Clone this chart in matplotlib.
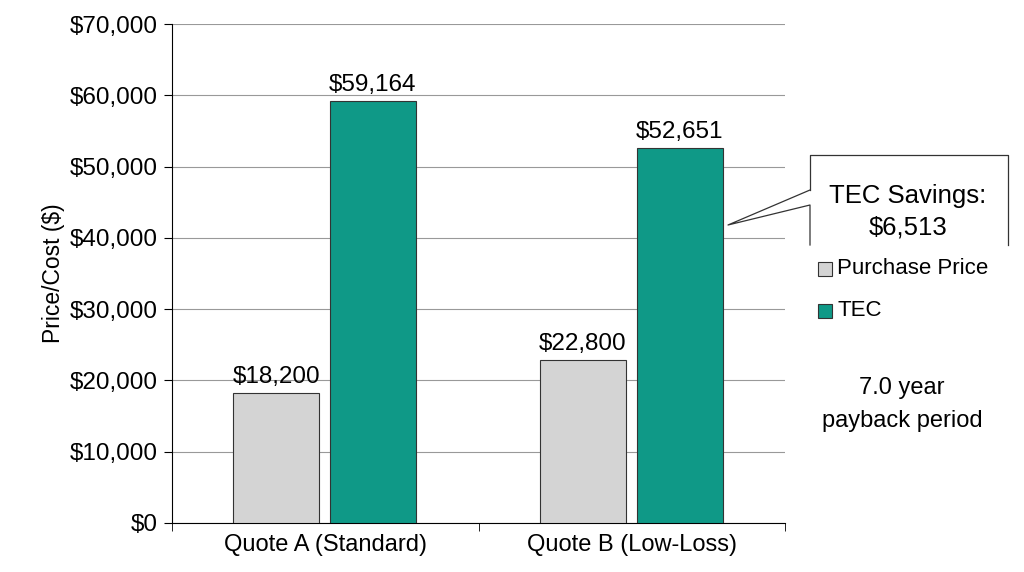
import matplotlib.pyplot as plt
from matplotlib.lines import Line2D
from matplotlib.patches import Rectangle
import numpy as np

plt.rcParams['font.family'] = ['Liberation Sans', 'DejaVu Sans']

categories = ['Quote A (Standard)', 'Quote B (Low-Loss)']
purchase = [18200, 22800]
tec = [59164, 52651]
gray = '#d4d4d4'
teal = '#0f9987'

fig = plt.figure(figsize=(10.24, 5.72), dpi=100)
ax = fig.add_axes([0.168, 0.086, 0.599, 0.872])
x = np.arange(len(categories))
w = 0.28
ax.bar(x - 0.16, purchase, w, color=gray, edgecolor='#333333', linewidth=0.8, zorder=3)
ax.bar(x + 0.155, tec, w, color=teal, edgecolor='#333333', linewidth=0.8, zorder=3)
for xi, p, t in zip(x, purchase, tec):
    ax.text(xi - 0.16, p + 700, f'${p:,}', ha='center', va='bottom', fontsize=17.5)
    ax.text(xi + 0.155, t + 700, f'${t:,}', ha='center', va='bottom', fontsize=17.5)

ax.set_xlim(-0.5, 1.5)
ax.set_ylim(0, 70000)
ax.set_yticks(range(0, 70001, 10000))
ax.set_yticklabels([f'${v:,}' for v in range(0, 70001, 10000)], fontsize=17.5)
ax.set_xticks(x)
ax.set_xticklabels(categories, fontsize=17)
ax.tick_params(axis='x', length=0, pad=8)
ax.set_xticks([-0.5, 0.5, 1.5], minor=True)
ax.tick_params(axis='x', which='minor', length=6, direction='out')
ax.tick_params(axis='y', length=6, direction='out', pad=4)
ax.set_ylabel('Price/Cost ($)', fontsize=16.5)
ax.grid(axis='y', color='#999999', linewidth=0.8, zorder=0)
for s in ['top', 'right']:
    ax.spines[s].set_visible(False)

# callout
def fx(px):
    return px / 1024
def fy(py):
    return 1 - py / 572
pts = [(810, 190), (810, 155), (1008, 155), (1008, 245)]
fig.add_artist(Line2D([fx(p[0]) for p in pts], [fy(p[1]) for p in pts], color='#333333', lw=0.9))
pts = [(810, 190), (728, 225), (810, 205), (810, 245)]
fig.add_artist(Line2D([fx(p[0]) for p in pts], [fy(p[1]) for p in pts], color='#333333', lw=0.9))
fig.text(fx(908), fy(196), 'TEC Savings:', ha='center', va='center', fontsize=18.5)
fig.text(fx(908), fy(228), '$6,513', ha='center', va='center', fontsize=18.5)

# legend
for py, col, lab in [(269, gray, 'Purchase Price'), (311, teal, 'TEC')]:
    fig.add_artist(Rectangle((fx(818), fy(py + 7)), 14 / 1024, 14 / 572,
                             facecolor=col, edgecolor='#333333', lw=0.8, transform=fig.transFigure))
    fig.text(fx(837), fy(py), lab, ha='left', va='center', fontsize=16)

fig.text(fx(902), fy(388), '7.0 year', ha='center', va='center', fontsize=17)
fig.text(fx(902), fy(421), 'payback period', ha='center', va='center', fontsize=17)

fig.savefig('out.png', dpi=100)
